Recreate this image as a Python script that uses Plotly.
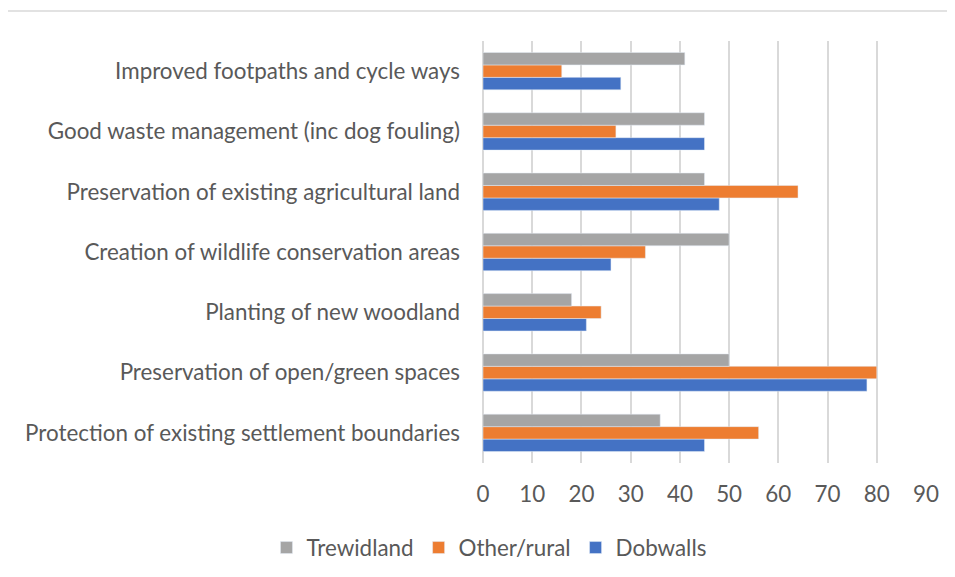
import plotly.graph_objects as go

categories = [
    "Protection of existing settlement boundaries",
    "Preservation of open/green spaces",
    "Planting of new woodland",
    "Creation of wildlife conservation areas",
    "Preservation of existing agricultural land",
    "Good waste management (inc dog fouling)",
    "Improved footpaths and cycle ways",
]
dobwalls = [45, 78, 21, 26, 48, 45, 28]
other_rural = [56, 80, 24, 33, 64, 27, 16]
trewidland = [36, 50, 18, 50, 45, 45, 41]

font = "Lato, Carlito, Calibri, sans-serif"
grey_txt = "#595959"

fig = go.Figure()
# first trace sits at the bottom of each group
fig.add_trace(go.Bar(y=categories, x=dobwalls, name="Dobwalls", orientation="h",
                     marker_color="#4472C4"))
fig.add_trace(go.Bar(y=categories, x=other_rural, name="Other/rural", orientation="h",
                     marker_color="#ED7D31"))
fig.add_trace(go.Bar(y=categories, x=trewidland, name="Trewidland", orientation="h",
                     marker_color="#A5A5A5"))

# the page body has an 8px margin, so margins are shifted to compensate
fig.update_layout(
    width=955, height=577,
    margin=dict(l=475, r=37, t=33, b=122),
    barmode="group", bargap=0.38, bargroupgap=0,
    plot_bgcolor="white", paper_bgcolor="white",
    font=dict(family=font, size=22.4, color=grey_txt),
    legend=dict(orientation="h", traceorder="reversed", x=0.0135, xanchor="center",
                y=-0.2014, yanchor="middle", font=dict(size=22.4, color=grey_txt),
                itemwidth=30),
    showlegend=True,
)
fig.update_xaxes(range=[0, 90], dtick=10, showgrid=True, gridcolor="#D9D9D9", gridwidth=1.5,
                 zeroline=True, zerolinecolor="#D9D9D9", zerolinewidth=1.5,
                 showline=False, ticks="", ticklabelstandoff=16,
                 tickfont=dict(size=22.4, color=grey_txt), fixedrange=True)
fig.update_yaxes(showgrid=False, showline=False, ticks="", ticklabelstandoff=22,
                 tickfont=dict(size=22.4, color=grey_txt), fixedrange=True)

# outer chart border: only its top and left edges fall inside the frame
border = dict(color="#D9D9D9", width=1.5)
fig.add_shape(type="line", xref="paper", yref="paper", x0=-1.0745, x1=1.065, y0=1.071, y1=1.071,
              line=border, layer="above")
fig.add_shape(type="line", xref="paper", yref="paper", x0=-1.0745, x1=-1.0745, y0=-0.27, y1=1.071,
              line=border, layer="above")

fig.write_html("out.html")
